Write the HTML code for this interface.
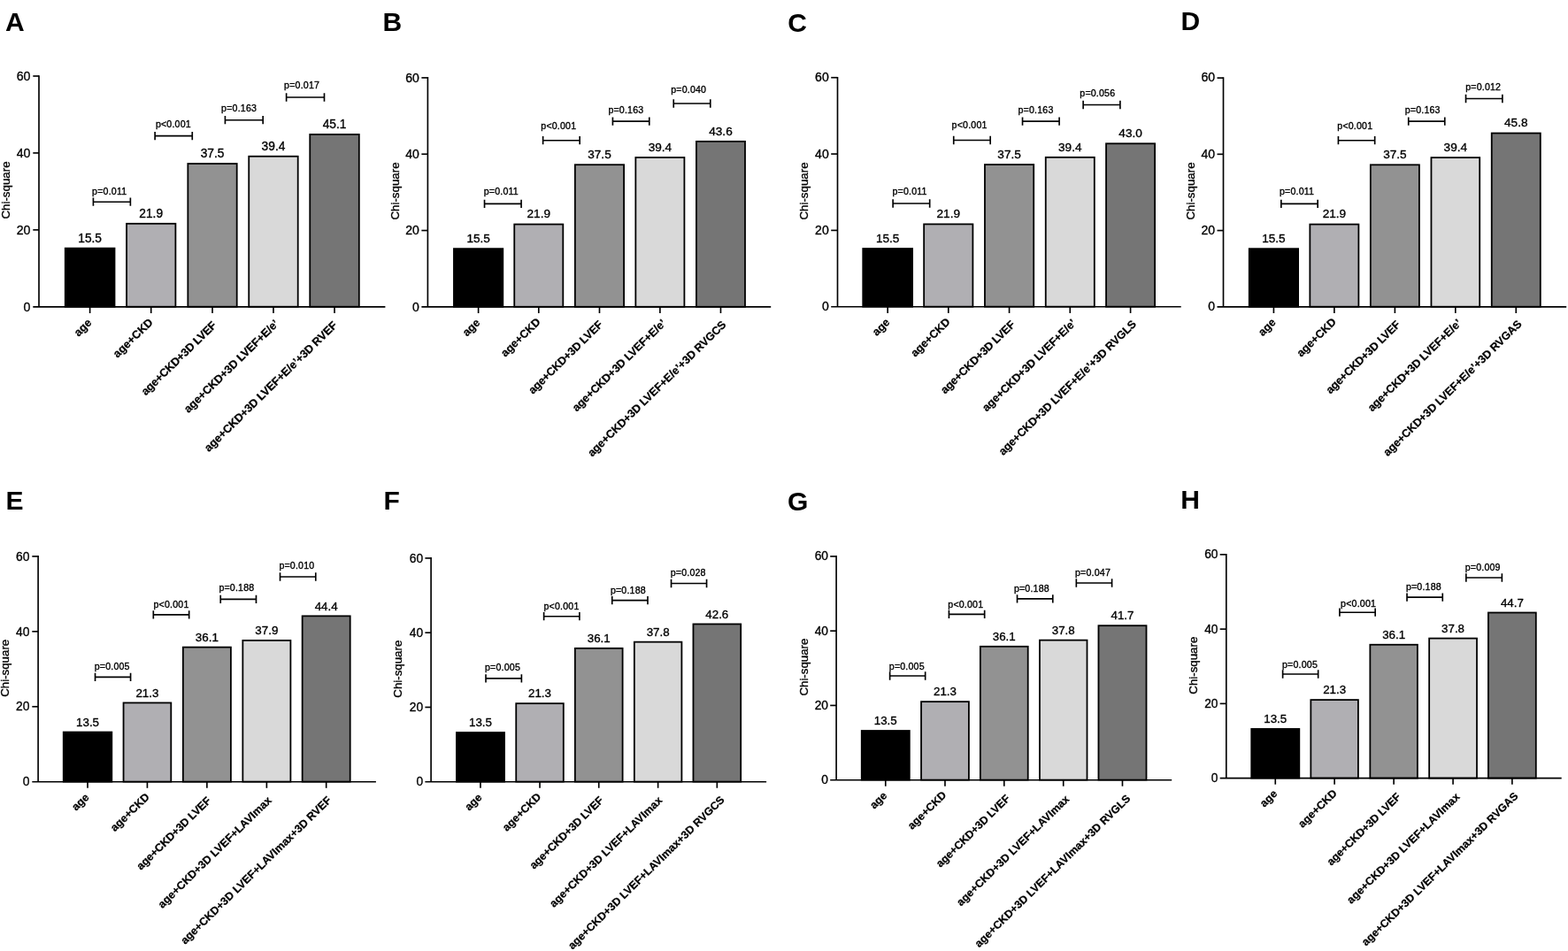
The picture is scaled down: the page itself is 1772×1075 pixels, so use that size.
<!DOCTYPE html>
<html lang="en">
<head>
<meta charset="utf-8">
<title>Chi-square bar charts</title>
<style>
html,body{margin:0;padding:0;background:#fff;}
body{width:1772px;height:1075px;overflow:hidden;}
svg{display:block;}
text{font-family:"Liberation Sans","DejaVu Sans",sans-serif;fill:#000;stroke:#000;stroke-width:0.35px;stroke-linejoin:round;}
.lt{font-size:30px;font-weight:bold;stroke:none;}
.tk{text-anchor:end;}
.vl{text-anchor:middle;}
.pv{font-size:10.6px;letter-spacing:0.2px;}
.xl{font-weight:bold;text-anchor:end;stroke-width:0.25px;}
.yl{font-size:13.3px;text-anchor:middle;}
.ln{stroke:#000;stroke-width:1.65;fill:none;}
</style>
</head>
<body>
<svg width="1772" height="1075" viewBox="0 0 1772 1075">
<rect x="0" y="0" width="1772" height="1075" fill="#fff"/>
<g id="panel-A">
<text class="lt" x="6.1" y="35.2">A</text>
<rect x="73.75" y="280.63" width="55.75" height="66.1" fill="#000000" stroke="#000" stroke-width="1.8"/>
<text class="vl" font-size="13.74" x="101.62" y="273.53">15.5</text>
<path class="ln" d="M101.62 346.8V354.07"/>
<text class="xl" font-size="12.73" transform="translate(104.33 365.6) rotate(-44.4)">age</text>
<rect x="143.05" y="252.81" width="55.35" height="93.92" fill="#b0afb3" stroke="#000" stroke-width="1.8"/>
<text class="vl" font-size="13.74" x="170.72" y="245.71">21.9</text>
<path class="ln" d="M170.72 346.8V354.07"/>
<text class="xl" font-size="12.73" transform="translate(173.52 365.2) rotate(-44.4)">age+CKD</text>
<rect x="212.35" y="185" width="55.35" height="161.72" fill="#929292" stroke="#000" stroke-width="1.8"/>
<text class="vl" font-size="13.74" x="240.03" y="177.9">37.5</text>
<path class="ln" d="M240.03 346.8V354.07"/>
<text class="xl" font-size="12.73" transform="translate(245.22 368.7) rotate(-44.4)" letter-spacing="-0.2">age+CKD+3D LVEF</text>
<rect x="281.25" y="176.74" width="55.45" height="169.98" fill="#d9d9d9" stroke="#000" stroke-width="1.8"/>
<text class="vl" font-size="13.74" x="308.98" y="169.64">39.4</text>
<path class="ln" d="M308.98 346.8V354.07"/>
<text class="xl" font-size="12.73" transform="translate(315.78 366.8) rotate(-44.4)" letter-spacing="-0.1">age+CKD+3D LVEF+E/e’</text>
<rect x="350.25" y="151.97" width="55.55" height="194.76" fill="#757575" stroke="#000" stroke-width="1.8"/>
<text class="vl" font-size="13.74" x="378.03" y="144.87">45.1</text>
<path class="ln" d="M378.03 346.8V354.07"/>
<text class="xl" font-size="12.73" transform="translate(381.62 368.6) rotate(-44.4)" letter-spacing="-0.1">age+CKD+3D LVEF+E/e’+3D RVEF</text>
<path class="ln" d="M44 85.17V346.8M37.3 346.8H435.4"/>
<path class="ln" d="M37.3 86H44"/>
<text class="tk" font-size="14.14" x="34.4" y="90.7">60</text>
<path class="ln" d="M37.3 172.93H44"/>
<text class="tk" font-size="14.14" x="34.4" y="177.63">40</text>
<path class="ln" d="M37.3 259.87H44"/>
<text class="tk" font-size="14.14" x="34.4" y="264.57">20</text>
<text class="tk" font-size="14.14" x="34.4" y="351.5">0</text>
<text class="yl" transform="translate(10.7 215) rotate(-90)">Chi-square</text>
<path class="ln" d="M105.42 223.55V232.85M147.38 223.55V232.85M104.6 228.2H148.2"/>
<text class="pv" x="104.1" y="219.9">p=0.011</text>
<path class="ln" d="M175.12 148.95V158.25M217.28 148.95V158.25M174.3 153.6H218.1"/>
<text class="pv" x="175.9" y="144">p&lt;0.001</text>
<path class="ln" d="M254.42 131.05V140.35M297.18 131.05V140.35M253.6 135.7H298"/>
<text class="pv" x="250.1" y="126.1">p=0.163</text>
<path class="ln" d="M323.62 105.35V114.65M366.48 105.35V114.65M322.8 110H367.3"/>
<text class="pv" x="321.1" y="100.1">p=0.017</text>
</g>
<g id="panel-B">
<text class="lt" x="432.6" y="34.9">B</text>
<rect x="512.95" y="281.15" width="55.35" height="65.62" fill="#000000" stroke="#000" stroke-width="1.8"/>
<text class="vl" font-size="13.6" x="540.62" y="274.05">15.5</text>
<path class="ln" d="M540.62 346.85V354.05"/>
<text class="xl" font-size="12.6" transform="translate(543.23 365.65) rotate(-44.4)">age</text>
<rect x="581.25" y="253.53" width="55.05" height="93.24" fill="#b0afb3" stroke="#000" stroke-width="1.8"/>
<text class="vl" font-size="13.6" x="608.78" y="246.43">21.9</text>
<path class="ln" d="M608.78 346.85V354.05"/>
<text class="xl" font-size="12.6" transform="translate(611.38 364.65) rotate(-44.4)">age+CKD</text>
<rect x="649.85" y="186.21" width="55.25" height="160.57" fill="#929292" stroke="#000" stroke-width="1.8"/>
<text class="vl" font-size="13.6" x="677.48" y="179.11">37.5</text>
<path class="ln" d="M677.48 346.85V354.05"/>
<text class="xl" font-size="12.6" transform="translate(681.88 367.85) rotate(-44.4)" letter-spacing="-0.2">age+CKD+3D LVEF</text>
<rect x="718.35" y="178.01" width="55.05" height="168.77" fill="#d9d9d9" stroke="#000" stroke-width="1.8"/>
<text class="vl" font-size="13.6" x="745.88" y="170.91">39.4</text>
<path class="ln" d="M745.88 346.85V354.05"/>
<text class="xl" font-size="12.6" transform="translate(753.38 366.25) rotate(-44.4)" letter-spacing="-0.1">age+CKD+3D LVEF+E/e’</text>
<rect x="786.95" y="159.88" width="55.05" height="186.9" fill="#757575" stroke="#000" stroke-width="1.8"/>
<text class="vl" font-size="13.6" x="814.47" y="152.78">43.6</text>
<path class="ln" d="M814.47 346.85V354.05"/>
<text class="xl" font-size="12.6" transform="translate(821.27 367.85) rotate(-44.4)" letter-spacing="-0.1">age+CKD+3D LVEF+E/e’+3D RVGCS</text>
<path class="ln" d="M483.4 87.08V346.85M476.4 346.85H871.2"/>
<path class="ln" d="M476.4 87.9H483.4"/>
<text class="tk" font-size="14" x="473.9" y="92.6">60</text>
<path class="ln" d="M476.4 174.22H483.4"/>
<text class="tk" font-size="14" x="473.9" y="178.92">40</text>
<path class="ln" d="M476.4 260.53H483.4"/>
<text class="tk" font-size="14" x="473.9" y="265.23">20</text>
<text class="tk" font-size="14" x="473.9" y="351.55">0</text>
<text class="yl" transform="translate(451.3 216) rotate(-90)">Chi-square</text>
<path class="ln" d="M547.53 225.65V234.95M589.07 225.65V234.95M546.7 230.3H589.9"/>
<text class="pv" x="546.7" y="219.9">p=0.011</text>
<path class="ln" d="M613.62 154.05V163.35M655.17 154.05V163.35M612.8 158.7H656"/>
<text class="pv" x="611.3" y="145.8">p&lt;0.001</text>
<path class="ln" d="M692.43 132.45V141.75M733.77 132.45V141.75M691.6 137.1H734.6"/>
<text class="pv" x="687.4" y="127.8">p=0.163</text>
<path class="ln" d="M761.23 112.35V121.65M802.77 112.35V121.65M760.4 117H803.6"/>
<text class="pv" x="758.2" y="104.8">p=0.040</text>
</g>
<g id="panel-C">
<text class="lt" x="890.3" y="35.6">C</text>
<rect x="975.25" y="281.03" width="55.85" height="65.65" fill="#000000" stroke="#000" stroke-width="1.8"/>
<text class="vl" font-size="13.6" x="1003.17" y="273.93">15.5</text>
<path class="ln" d="M1003.17 346.75V353.95"/>
<text class="xl" font-size="12.6" transform="translate(1006.38 365.15) rotate(-44.4)">age</text>
<rect x="1044.15" y="253.4" width="55.25" height="93.28" fill="#b0afb3" stroke="#000" stroke-width="1.8"/>
<text class="vl" font-size="13.6" x="1071.78" y="246.3">21.9</text>
<path class="ln" d="M1071.78 346.75V353.95"/>
<text class="xl" font-size="12.6" transform="translate(1074.58 364.65) rotate(-44.4)">age+CKD</text>
<rect x="1112.95" y="186.04" width="55.25" height="160.63" fill="#929292" stroke="#000" stroke-width="1.8"/>
<text class="vl" font-size="13.6" x="1140.57" y="178.94">37.5</text>
<path class="ln" d="M1140.57 346.75V353.95"/>
<text class="xl" font-size="12.6" transform="translate(1147.77 367.75) rotate(-44.4)" letter-spacing="-0.2">age+CKD+3D LVEF</text>
<rect x="1181.75" y="177.84" width="55.05" height="168.83" fill="#d9d9d9" stroke="#000" stroke-width="1.8"/>
<text class="vl" font-size="13.6" x="1209.27" y="170.74">39.4</text>
<path class="ln" d="M1209.27 346.75V353.95"/>
<text class="xl" font-size="12.6" transform="translate(1216.77 366.15) rotate(-44.4)" letter-spacing="-0.1">age+CKD+3D LVEF+E/e’</text>
<rect x="1250.05" y="162.3" width="55.05" height="184.38" fill="#757575" stroke="#000" stroke-width="1.8"/>
<text class="vl" font-size="13.6" x="1277.58" y="155.2">43.0</text>
<path class="ln" d="M1277.58 346.75V353.95"/>
<text class="xl" font-size="12.6" transform="translate(1284.78 367.15) rotate(-44.4)" letter-spacing="-0.1">age+CKD+3D LVEF+E/e’+3D RVGLS</text>
<path class="ln" d="M946.5 86.88V346.75M939.2 346.75H1334.7"/>
<path class="ln" d="M939.2 87.7H946.5"/>
<text class="tk" font-size="14" x="936.7" y="92.4">60</text>
<path class="ln" d="M939.2 174.05H946.5"/>
<text class="tk" font-size="14" x="936.7" y="178.75">40</text>
<path class="ln" d="M939.2 260.4H946.5"/>
<text class="tk" font-size="14" x="936.7" y="265.1">20</text>
<text class="tk" font-size="14" x="936.7" y="351.45">0</text>
<text class="yl" transform="translate(913.2 216) rotate(-90)">Chi-square</text>
<path class="ln" d="M1009.12 225.35V234.65M1050.67 225.35V234.65M1008.3 230H1051.5"/>
<text class="pv" x="1008.5" y="220.4">p=0.011</text>
<path class="ln" d="M1077.73 153.85V163.15M1119.17 153.85V163.15M1076.9 158.5H1120"/>
<text class="pv" x="1075.6" y="145.1">p&lt;0.001</text>
<path class="ln" d="M1155.53 132.45V141.75M1197.08 132.45V141.75M1154.7 137.1H1197.9"/>
<text class="pv" x="1150.5" y="127.5">p=0.163</text>
<path class="ln" d="M1224.12 113.85V123.15M1265.88 113.85V123.15M1223.3 118.5H1266.7"/>
<text class="pv" x="1220.3" y="109.2">p=0.056</text>
</g>
<g id="panel-D">
<text class="lt" x="1334.4" y="34.3">D</text>
<rect x="1411.75" y="281.17" width="55.35" height="65.56" fill="#000000" stroke="#000" stroke-width="1.8"/>
<text class="vl" font-size="13.6" x="1439.42" y="274.07">15.5</text>
<path class="ln" d="M1439.42 346.8V354"/>
<text class="xl" font-size="12.6" transform="translate(1442.62 365.2) rotate(-44.4)">age</text>
<rect x="1480.35" y="253.57" width="55.05" height="93.15" fill="#b0afb3" stroke="#000" stroke-width="1.8"/>
<text class="vl" font-size="13.6" x="1507.88" y="246.47">21.9</text>
<path class="ln" d="M1507.88 346.8V354"/>
<text class="xl" font-size="12.6" transform="translate(1510.67 364.7) rotate(-44.4)">age+CKD</text>
<rect x="1548.85" y="186.31" width="55.05" height="160.41" fill="#929292" stroke="#000" stroke-width="1.8"/>
<text class="vl" font-size="13.6" x="1576.38" y="179.21">37.5</text>
<path class="ln" d="M1576.38 346.8V354"/>
<text class="xl" font-size="12.6" transform="translate(1583.17 367.8) rotate(-44.4)" letter-spacing="-0.2">age+CKD+3D LVEF</text>
<rect x="1617.45" y="178.12" width="54.75" height="168.6" fill="#d9d9d9" stroke="#000" stroke-width="1.8"/>
<text class="vl" font-size="13.6" x="1644.82" y="171.02">39.4</text>
<path class="ln" d="M1644.82 346.8V354"/>
<text class="xl" font-size="12.6" transform="translate(1652.32 366.2) rotate(-44.4)" letter-spacing="-0.1">age+CKD+3D LVEF+E/e’</text>
<rect x="1685.75" y="150.53" width="55.05" height="196.2" fill="#757575" stroke="#000" stroke-width="1.8"/>
<text class="vl" font-size="13.6" x="1713.27" y="143.43">45.8</text>
<path class="ln" d="M1713.27 346.8V354"/>
<text class="xl" font-size="12.6" transform="translate(1720.47 367.2) rotate(-44.4)" letter-spacing="-0.1">age+CKD+3D LVEF+E/e’+3D RVGAS</text>
<path class="ln" d="M1382.5 87.27V346.8M1375.5 346.8H1770.2"/>
<path class="ln" d="M1375.5 88.1H1382.5"/>
<text class="tk" font-size="14" x="1373" y="92.4">60</text>
<path class="ln" d="M1375.5 174.33H1382.5"/>
<text class="tk" font-size="14" x="1373" y="178.63">40</text>
<path class="ln" d="M1375.5 260.57H1382.5"/>
<text class="tk" font-size="14" x="1373" y="264.87">20</text>
<text class="tk" font-size="14" x="1373" y="351.1">0</text>
<text class="yl" transform="translate(1350 216) rotate(-90)">Chi-square</text>
<path class="ln" d="M1447.83 225.65V234.95M1489.17 225.65V234.95M1447 230.3H1490"/>
<text class="pv" x="1446" y="219.9">p=0.011</text>
<path class="ln" d="M1512.42 154.05V163.35M1553.67 154.05V163.35M1511.6 158.7H1554.5"/>
<text class="pv" x="1511.3" y="145.6">p&lt;0.001</text>
<path class="ln" d="M1591.73 132.45V141.75M1632.77 132.45V141.75M1590.9 137.1H1633.6"/>
<text class="pv" x="1587.7" y="128">p=0.163</text>
<path class="ln" d="M1656.53 106.85V116.15M1697.88 106.85V116.15M1655.7 111.5H1698.7"/>
<text class="pv" x="1656.2" y="102.2">p=0.012</text>
</g>
<g id="panel-E">
<text class="lt" x="6.5" y="576.4">E</text>
<rect x="71.75" y="827.57" width="54.55" height="56.06" fill="#000000" stroke="#000" stroke-width="1.8"/>
<text class="vl" font-size="13.42" x="99.02" y="820.77">13.5</text>
<path class="ln" d="M99.02 883.7V890.81"/>
<text class="xl" font-size="12.44" transform="translate(101.42 902.1) rotate(-44.4)">age</text>
<rect x="139.55" y="794.45" width="53.75" height="89.18" fill="#b0afb3" stroke="#000" stroke-width="1.8"/>
<text class="vl" font-size="13.42" x="166.43" y="787.65">21.3</text>
<path class="ln" d="M166.43 883.7V890.81"/>
<text class="xl" font-size="12.44" transform="translate(169.62 901.6) rotate(-44.4)">age+CKD</text>
<rect x="206.85" y="731.6" width="54.05" height="152.03" fill="#929292" stroke="#000" stroke-width="1.8"/>
<text class="vl" font-size="13.42" x="233.88" y="724.8">36.1</text>
<path class="ln" d="M233.88 883.7V890.81"/>
<text class="xl" font-size="12.44" transform="translate(239.07 905.9) rotate(-44.4)" letter-spacing="-0.1">age+CKD+3D LVEF</text>
<rect x="274.35" y="723.95" width="54.05" height="159.67" fill="#d9d9d9" stroke="#000" stroke-width="1.8"/>
<text class="vl" font-size="13.42" x="301.38" y="717.15">37.9</text>
<path class="ln" d="M301.38 883.7V890.81"/>
<text class="xl" font-size="12.44" transform="translate(307.77 905.5) rotate(-44.4)" letter-spacing="0.05">age+CKD+3D LVEF+LAVImax</text>
<rect x="341.65" y="696.35" width="54.05" height="187.28" fill="#757575" stroke="#000" stroke-width="1.8"/>
<text class="vl" font-size="13.42" x="368.68" y="689.55">44.4</text>
<path class="ln" d="M368.68 883.7V890.81"/>
<text class="xl" font-size="12.44" transform="translate(375.07 905.4) rotate(-44.4)">age+CKD+3D LVEF+LAVImax+3D RVEF</text>
<path class="ln" d="M43.1 628.07V883.7M36.3 883.7H424.9"/>
<path class="ln" d="M36.3 628.9H43.1"/>
<text class="tk" font-size="13.82" x="33.4" y="633.6">60</text>
<path class="ln" d="M36.3 713.83H43.1"/>
<text class="tk" font-size="13.82" x="33.4" y="718.53">40</text>
<path class="ln" d="M36.3 798.77H43.1"/>
<text class="tk" font-size="13.82" x="33.4" y="803.47">20</text>
<text class="tk" font-size="13.82" x="33.4" y="888.4">0</text>
<text class="yl" transform="translate(10.3 755.3) rotate(-90)">Chi-square</text>
<path class="ln" d="M107.53 760.65V769.95M147.58 760.65V769.95M106.7 765.3H148.4"/>
<text class="pv" x="106.7" y="756.5">p=0.005</text>
<path class="ln" d="M173.32 690.25V699.55M213.68 690.25V699.55M172.5 694.9H214.5"/>
<text class="pv" x="173.5" y="686.9">p&lt;0.001</text>
<path class="ln" d="M249.22 672.75V682.05M289.48 672.75V682.05M248.4 677.4H290.3"/>
<text class="pv" x="247.4" y="668.3">p=0.188</text>
<path class="ln" d="M316.52 647.35V656.65M356.78 647.35V656.65M315.7 652H357.6"/>
<text class="pv" x="315.4" y="643.2">p=0.010</text>
</g>
<g id="panel-F">
<text class="lt" x="433.5" y="576.4">F</text>
<rect x="515.95" y="828.03" width="54.05" height="55.59" fill="#000000" stroke="#000" stroke-width="1.8"/>
<text class="vl" font-size="13.33" x="542.97" y="821.23">13.5</text>
<path class="ln" d="M542.97 883.7V890.76"/>
<text class="xl" font-size="12.35" transform="translate(545.38 902.1) rotate(-44.4)">age</text>
<rect x="583.25" y="795.17" width="53.55" height="88.45" fill="#b0afb3" stroke="#000" stroke-width="1.8"/>
<text class="vl" font-size="13.33" x="610.03" y="788.37">21.3</text>
<path class="ln" d="M610.03 883.7V890.76"/>
<text class="xl" font-size="12.35" transform="translate(612.23 901.6) rotate(-44.4)">age+CKD</text>
<rect x="649.85" y="732.83" width="53.75" height="150.8" fill="#929292" stroke="#000" stroke-width="1.8"/>
<text class="vl" font-size="13.33" x="676.73" y="726.03">36.1</text>
<path class="ln" d="M676.73 883.7V890.76"/>
<text class="xl" font-size="12.35" transform="translate(682.53 905.6) rotate(-44.4)" letter-spacing="-0.1">age+CKD+3D LVEF</text>
<rect x="716.85" y="725.67" width="53.55" height="157.96" fill="#d9d9d9" stroke="#000" stroke-width="1.8"/>
<text class="vl" font-size="13.33" x="743.62" y="718.87">37.8</text>
<path class="ln" d="M743.62 883.7V890.76"/>
<text class="xl" font-size="12.35" transform="translate(749.23 905.5) rotate(-44.4)" letter-spacing="0.05">age+CKD+3D LVEF+LAVImax</text>
<rect x="783.45" y="705.45" width="53.75" height="178.18" fill="#757575" stroke="#000" stroke-width="1.8"/>
<text class="vl" font-size="13.33" x="810.33" y="698.65">42.6</text>
<path class="ln" d="M810.33 883.7V890.76"/>
<text class="xl" font-size="12.35" transform="translate(819.43 904.9) rotate(-44.4)">age+CKD+3D LVEF+LAVImax+3D RVGCS</text>
<path class="ln" d="M487.1 630.12V883.7M480.4 883.7H866.1"/>
<path class="ln" d="M480.4 630.95H487.1"/>
<text class="tk" font-size="13.72" x="478.1" y="635.65">60</text>
<path class="ln" d="M480.4 715.2H487.1"/>
<text class="tk" font-size="13.72" x="478.1" y="719.9">40</text>
<path class="ln" d="M480.4 799.45H487.1"/>
<text class="tk" font-size="13.72" x="478.1" y="804.15">20</text>
<text class="tk" font-size="13.72" x="478.1" y="888.4">0</text>
<text class="yl" transform="translate(454 756.2) rotate(-90)">Chi-square</text>
<path class="ln" d="M549.03 762.15V771.45M589.38 762.15V771.45M548.2 766.8H590.2"/>
<text class="pv" x="548" y="758">p=0.005</text>
<path class="ln" d="M614.62 692.05V701.35M654.88 692.05V701.35M613.8 696.7H655.7"/>
<text class="pv" x="614.5" y="688.7">p&lt;0.001</text>
<path class="ln" d="M691.73 673.95V683.25M731.97 673.95V683.25M690.9 678.6H732.8"/>
<text class="pv" x="689.9" y="670.6">p=0.188</text>
<path class="ln" d="M758.53 654.85V664.15M798.57 654.85V664.15M757.7 659.5H799.4"/>
<text class="pv" x="757.7" y="650.7">p=0.028</text>
</g>
<g id="panel-G">
<text class="lt" x="890" y="576.8">G</text>
<rect x="973.75" y="826.02" width="54.05" height="55.61" fill="#000000" stroke="#000" stroke-width="1.8"/>
<text class="vl" font-size="13.33" x="1000.77" y="819.22">13.5</text>
<path class="ln" d="M1000.77 881.7V888.76"/>
<text class="xl" font-size="12.35" transform="translate(1003.17 900.1) rotate(-44.4)">age</text>
<rect x="1041.05" y="793.16" width="53.85" height="88.47" fill="#b0afb3" stroke="#000" stroke-width="1.8"/>
<text class="vl" font-size="13.33" x="1067.97" y="786.36">21.3</text>
<path class="ln" d="M1067.97 881.7V888.76"/>
<text class="xl" font-size="12.35" transform="translate(1070.17 899.6) rotate(-44.4)">age+CKD</text>
<rect x="1107.85" y="730.8" width="53.85" height="150.83" fill="#929292" stroke="#000" stroke-width="1.8"/>
<text class="vl" font-size="13.33" x="1134.78" y="724">36.1</text>
<path class="ln" d="M1134.78 881.7V888.76"/>
<text class="xl" font-size="12.35" transform="translate(1141.98 903.6) rotate(-44.4)" letter-spacing="-0.1">age+CKD+3D LVEF</text>
<rect x="1174.95" y="723.64" width="53.55" height="157.99" fill="#d9d9d9" stroke="#000" stroke-width="1.8"/>
<text class="vl" font-size="13.33" x="1201.72" y="716.84">37.8</text>
<path class="ln" d="M1201.72 881.7V888.76"/>
<text class="xl" font-size="12.35" transform="translate(1209.22 904.1) rotate(-44.4)" letter-spacing="0.05">age+CKD+3D LVEF+LAVImax</text>
<rect x="1241.45" y="707.2" width="54.05" height="174.42" fill="#757575" stroke="#000" stroke-width="1.8"/>
<text class="vl" font-size="13.33" x="1268.47" y="700.4">41.7</text>
<path class="ln" d="M1268.47 881.7V888.76"/>
<text class="xl" font-size="12.35" transform="translate(1278.17 903.5) rotate(-44.4)">age+CKD+3D LVEF+LAVImax+3D RVGLS</text>
<path class="ln" d="M945.1 628.07V881.7M938.2 881.7H1324.2"/>
<path class="ln" d="M938.2 628.9H945.1"/>
<text class="tk" font-size="13.72" x="935.9" y="633.4">60</text>
<path class="ln" d="M938.2 713.17H945.1"/>
<text class="tk" font-size="13.72" x="935.9" y="717.67">40</text>
<path class="ln" d="M938.2 797.43H945.1"/>
<text class="tk" font-size="13.72" x="935.9" y="801.93">20</text>
<text class="tk" font-size="13.72" x="935.9" y="886.2">0</text>
<text class="yl" transform="translate(912.5 754.1) rotate(-90)">Chi-square</text>
<path class="ln" d="M1005.62 759.35V768.65M1045.67 759.35V768.65M1004.8 764H1046.5"/>
<text class="pv" x="1004.8" y="756.8">p=0.005</text>
<path class="ln" d="M1072.42 689.65V698.95M1112.67 689.65V698.95M1071.6 694.3H1113.5"/>
<text class="pv" x="1071.3" y="686.8">p&lt;0.001</text>
<path class="ln" d="M1149.53 672.25V681.55M1189.77 672.25V681.55M1148.7 676.9H1190.6"/>
<text class="pv" x="1145.9" y="669.2">p=0.188</text>
<path class="ln" d="M1216.33 654.35V663.65M1256.58 654.35V663.65M1215.5 659H1257.4"/>
<text class="pv" x="1215" y="651">p=0.047</text>
</g>
<g id="panel-H">
<text class="lt" x="1334.3" y="575">H</text>
<rect x="1414.25" y="823.97" width="54.05" height="55.61" fill="#000000" stroke="#000" stroke-width="1.8"/>
<text class="vl" font-size="13.33" x="1441.27" y="817.17">13.5</text>
<path class="ln" d="M1441.27 879.65V886.71"/>
<text class="xl" font-size="12.35" transform="translate(1444.07 898.05) rotate(-44.4)">age</text>
<rect x="1481.35" y="791.11" width="53.55" height="88.47" fill="#b0afb3" stroke="#000" stroke-width="1.8"/>
<text class="vl" font-size="13.33" x="1508.12" y="784.31">21.3</text>
<path class="ln" d="M1508.12 879.65V886.71"/>
<text class="xl" font-size="12.35" transform="translate(1511.53 897.55) rotate(-44.4)">age+CKD</text>
<rect x="1548.35" y="728.75" width="53.55" height="150.83" fill="#929292" stroke="#000" stroke-width="1.8"/>
<text class="vl" font-size="13.33" x="1575.12" y="721.95">36.1</text>
<path class="ln" d="M1575.12 879.65V886.71"/>
<text class="xl" font-size="12.35" transform="translate(1583.62 901.55) rotate(-44.4)" letter-spacing="-0.1">age+CKD+3D LVEF</text>
<rect x="1615.15" y="721.59" width="53.85" height="157.99" fill="#d9d9d9" stroke="#000" stroke-width="1.8"/>
<text class="vl" font-size="13.33" x="1642.07" y="714.79">37.8</text>
<path class="ln" d="M1642.07 879.65V886.71"/>
<text class="xl" font-size="12.35" transform="translate(1650.37 901.45) rotate(-44.4)" letter-spacing="0.05">age+CKD+3D LVEF+LAVImax</text>
<rect x="1681.95" y="692.51" width="53.85" height="187.06" fill="#757575" stroke="#000" stroke-width="1.8"/>
<text class="vl" font-size="13.33" x="1708.88" y="685.71">44.7</text>
<path class="ln" d="M1708.88 879.65V886.71"/>
<text class="xl" font-size="12.35" transform="translate(1716.38 900.85) rotate(-44.4)">age+CKD+3D LVEF+LAVImax+3D RVGAS</text>
<path class="ln" d="M1385.8 626.02V879.65M1378.7 879.65H1764.7"/>
<path class="ln" d="M1378.7 626.85H1385.8"/>
<text class="tk" font-size="13.72" x="1376.4" y="631.35">60</text>
<path class="ln" d="M1378.7 711.12H1385.8"/>
<text class="tk" font-size="13.72" x="1376.4" y="715.62">40</text>
<path class="ln" d="M1378.7 795.38H1385.8"/>
<text class="tk" font-size="13.72" x="1376.4" y="799.88">20</text>
<text class="tk" font-size="13.72" x="1376.4" y="884.15">0</text>
<text class="yl" transform="translate(1353.3 752.2) rotate(-90)">Chi-square</text>
<path class="ln" d="M1449.62 757.35V766.65M1489.67 757.35V766.65M1448.8 762H1490.5"/>
<text class="pv" x="1449" y="755.4">p=0.005</text>
<path class="ln" d="M1513.92 687.55V696.85M1554.17 687.55V696.85M1513.1 692.2H1555"/>
<text class="pv" x="1515.1" y="685.9">p&lt;0.001</text>
<path class="ln" d="M1590.03 670.45V679.75M1630.27 670.45V679.75M1589.2 675.1H1631.1"/>
<text class="pv" x="1588.9" y="667.1">p=0.188</text>
<path class="ln" d="M1656.83 648.35V657.65M1697.38 648.35V657.65M1656 653H1698.2"/>
<text class="pv" x="1655.7" y="644.5">p=0.009</text>
</g>
</svg>
</body>
</html>
